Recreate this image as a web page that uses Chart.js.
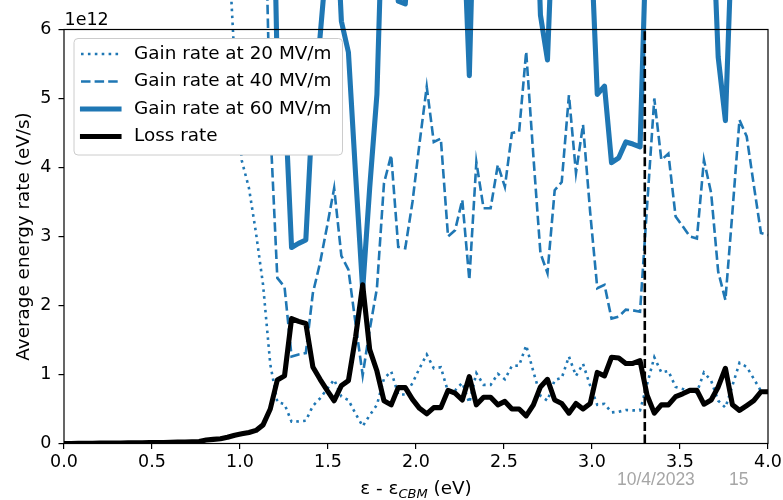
<!DOCTYPE html>
<html>
<head>
<meta charset="utf-8">
<script src="https://cdn.jsdelivr.net/npm/chart.js@4/dist/chart.umd.min.js"></script>
<style>
  html, body { margin: 0; padding: 0; background: #fff; }
  #wrap { width: 783px; height: 500px; }
</style>
</head>
<body>
<div id="wrap"><canvas id="rates" width="783" height="500"></canvas></div>
<script>
// energy above the conduction band minimum (eV)
const energy = [
  0.000, 0.040, 0.081, 0.121, 0.162, 0.202, 0.242, 0.283, 0.323, 0.364,
  0.404, 0.444, 0.485, 0.525, 0.566, 0.606, 0.646, 0.687, 0.727, 0.768,
  0.808, 0.848, 0.889, 0.929, 0.970, 1.010, 1.051, 1.091, 1.131, 1.172,
  1.212, 1.253, 1.293, 1.333, 1.374, 1.414, 1.455, 1.495, 1.535, 1.576,
  1.616, 1.657, 1.697, 1.737, 1.778, 1.818, 1.859, 1.899, 1.939, 1.980,
  2.020, 2.061, 2.101, 2.141, 2.182, 2.222, 2.263, 2.303, 2.343, 2.384,
  2.424, 2.465, 2.505, 2.545, 2.586, 2.626, 2.667, 2.707, 2.747, 2.788,
  2.828, 2.869, 2.909, 2.949, 2.990, 3.030, 3.071, 3.111, 3.152, 3.192,
  3.232, 3.273, 3.313, 3.354, 3.394, 3.434, 3.475, 3.515, 3.556, 3.596,
  3.636, 3.677, 3.717, 3.758, 3.798, 3.838, 3.879, 3.919, 3.960, 4.000
];

// rates in units of 1e12 eV/s (null = far above the plotted range)
const gain20 = [
  null, null, null, null, null, null, null, null, null, null,
  null, null, null, null, null, null, null, null, null, null,
  null, null, null, 7.5, 5.5, 4.1, 3.7, 3.05, 2.3, 1.15,
  0.60, 0.57, 0.315, 0.32, 0.33, 0.545, 0.655, 0.79, 0.925, 0.68,
  0.63, 0.43, 0.25, 0.41, 0.56, 0.94, 1.045, 0.71, 0.71, 0.875,
  1.09, 1.29, 1.09, 1.105, 0.75, 0.77, 0.88, 0.59, 1.02, 0.85,
  0.85, 1.01, 0.93, 1.125, 1.13, 1.42, 1.04, 0.69, 0.62, 0.92,
  0.95, 1.26, 0.98, 1.155, 0.835, 0.56, 0.575, 0.45, 0.46, 0.485,
  0.48, 0.48, 0.86, 1.25, 1.03, 1.05, 0.82, 0.79, 0.75, 0.74,
  1.03, 0.91, 0.62, 0.52, 0.84, 1.17, 1.11, 0.94, 0.76, 0.755
];

const gain40 = [
  null, null, null, null, null, null, null, null, null, null,
  null, null, null, null, null, null, null, null, null, null,
  null, null, null, 30.0, 22.0, 16.4, 14.8, 12.2, 9.2, 4.6,
  2.40, 2.27, 1.26, 1.29, 1.31, 2.18, 2.62, 3.15, 3.70, 2.72,
  2.52, 1.73, 0.99, 1.65, 2.25, 3.77, 4.18, 2.85, 2.83, 3.50,
  4.35, 5.17, 4.37, 4.42, 3.00, 3.09, 3.53, 2.37, 4.08, 3.41,
  3.41, 4.04, 3.72, 4.50, 4.52, 5.68, 4.16, 2.76, 2.47, 3.67,
  3.79, 5.05, 3.92, 4.62, 3.34, 2.25, 2.30, 1.81, 1.84, 1.94,
  1.93, 1.91, 3.44, 5.00, 4.11, 4.20, 3.29, 3.15, 3.00, 2.97,
  4.11, 3.63, 2.49, 2.08, 3.36, 4.69, 4.45, 3.75, 3.05, 3.02
];

const gain60 = [
  null, null, null, null, null, null, null, null, null, null,
  null, null, null, null, null, null, null, null, null, null,
  null, null, null, 67.5, 49.5, 36.9, 33.3, 27.5, 20.7, 10.35,
  5.40, 5.11, 2.84, 2.90, 2.95, 4.91, 5.90, 7.09, 8.33, 6.12,
  5.67, 3.89, 2.23, 3.71, 5.06, 8.48, 9.41, 6.41, 6.37, 7.88,
  9.79, 11.63, 9.83, 9.95, 6.75, 6.95, 7.94, 5.33, 9.18, 7.67,
  7.67, 9.09, 8.37, 10.13, 10.17, 12.78, 9.36, 6.21, 5.56, 8.26,
  8.53, 11.36, 8.82, 10.40, 7.52, 5.06, 5.18, 4.07, 4.14, 4.37,
  4.34, 4.30, 7.74, 11.25, 9.25, 9.45, 7.40, 7.09, 6.75, 6.68,
  9.25, 8.17, 5.60, 4.68, 7.56, 10.55, 10.01, 8.44, 6.86, 6.80
];

const lossRate = [
  0.000, 0.001, 0.002, 0.003, 0.004, 0.005, 0.006, 0.007, 0.008, 0.009,
  0.010, 0.011, 0.012, 0.013, 0.015, 0.017, 0.020, 0.022, 0.025, 0.030,
  0.05, 0.06, 0.07, 0.09, 0.12, 0.14, 0.16, 0.19, 0.27, 0.50,
  0.92, 0.98, 1.81, 1.77, 1.74, 1.11, 0.93, 0.77, 0.62, 0.84,
  0.91, 1.55, 2.30, 1.36, 1.05, 0.62, 0.56, 0.81, 0.81, 0.64,
  0.51, 0.43, 0.52, 0.52, 0.77, 0.73, 0.63, 0.97, 0.56, 0.67,
  0.67, 0.56, 0.61, 0.50, 0.50, 0.40, 0.56, 0.82, 0.93, 0.63,
  0.58, 0.44, 0.58, 0.50, 0.58, 1.03, 0.98, 1.25, 1.24, 1.16,
  1.16, 1.20, 0.70, 0.44, 0.56, 0.56, 0.68, 0.72, 0.77, 0.77,
  0.57, 0.63, 0.82, 1.09, 0.56, 0.48, 0.55, 0.62, 0.75, 0.75
];

const markerEnergy = 3.3;   // dashed vertical marker (eV)
const xTicks = [0, 0.5, 1, 1.5, 2, 2.5, 3, 3.5, 4];
const yTicks = [0, 1, 2, 3, 4, 5, 6];

const BLUE = '#1f77b4';
const FONT = 'DejaVu Sans';

const pts = arr => energy.map((e, i) => ({ x: e, y: arr[i] }));

// keep the plot box fixed regardless of tick label overhang
const noOverhang = s => { s.paddingLeft = 0; s.paddingRight = 0; s.paddingTop = 0; s.paddingBottom = 0; };

// axes box, legend, axis titles and footer
const decorations = {
  id: 'decorations',
  afterDatasetsDraw(chart) {
    const { ctx, chartArea: a } = chart;
    ctx.save();
    ctx.strokeStyle = '#000';
    ctx.lineWidth = 1.2;
    ctx.strokeRect(a.left, a.top, a.right - a.left, a.bottom - a.top);

    // legend
    const bx = 74, by = 38.5, bw = 268.5, bh = 116.5, r = 4;
    ctx.beginPath();
    ctx.moveTo(bx + r, by);
    ctx.arcTo(bx + bw, by, bx + bw, by + bh, r);
    ctx.arcTo(bx + bw, by + bh, bx, by + bh, r);
    ctx.arcTo(bx, by + bh, bx, by, r);
    ctx.arcTo(bx, by, bx + bw, by, r);
    ctx.closePath();
    ctx.fillStyle = '#fff';
    ctx.fill();
    ctx.strokeStyle = '#cccccc';
    ctx.lineWidth = 1;
    ctx.stroke();

    const rows = [54, 81.5, 109, 136.5];
    const items = chart.data.datasets.filter(d => d.label);
    items.forEach((d, k) => {
      const y = rows[k];
      ctx.beginPath();
      ctx.strokeStyle = d.borderColor;
      ctx.lineWidth = d.borderWidth;
      ctx.setLineDash(d.borderDash || []);
      ctx.lineCap = d.borderDash ? 'butt' : 'square';
      const x0 = d.borderDash ? 81 : 82.5, x1 = d.borderDash ? 120.5 : 119;
      ctx.moveTo(x0, y);
      ctx.lineTo(x1, y);
      ctx.stroke();
      ctx.setLineDash([]);
      ctx.fillStyle = '#000';
      ctx.font = `18.4px "${FONT}"`;
      ctx.textBaseline = 'middle';
      ctx.textAlign = 'left';
      ctx.fillText(d.label, 134, y);
    });
    ctx.restore();
  },
  afterDraw(chart) {
    const { ctx, chartArea: a } = chart;
    ctx.save();
    ctx.fillStyle = '#000';

    // offset text
    ctx.font = `17.5px "${FONT}"`;
    ctx.textAlign = 'left';
    ctx.textBaseline = 'alphabetic';
    ctx.fillText('1e12', a.left + 0.5, 25);

    // y title
    ctx.save();
    ctx.translate(28.5, (a.top + a.bottom) / 2);
    ctx.rotate(-Math.PI / 2);
    ctx.font = `18.4px "${FONT}"`;
    ctx.textAlign = 'center';
    ctx.fillText('Average energy rate (eV/s)', 0, 0);
    ctx.restore();

    // x title with italic subscript
    const big = `18.4px "${FONT}"`, small = `italic 13px "${FONT}"`;
    const p1 = 'ε - ε', sub = 'CBM', p2 = ' (eV)';
    ctx.font = big;
    const w1 = ctx.measureText(p1).width, w3 = ctx.measureText(p2).width;
    ctx.font = small;
    const w2 = ctx.measureText(sub).width;
    let x = (a.left + a.right) / 2 - (w1 + w2 + w3) / 2;
    const base = 494;
    ctx.textAlign = 'left';
    ctx.font = big;
    ctx.fillText(p1, x, base);
    x += w1;
    ctx.font = small;
    ctx.fillText(sub, x, base + 3.5);
    x += w2;
    ctx.font = big;
    ctx.fillText(p2, x, base);

    // footer
    ctx.fillStyle = '#a6a6a6';
    ctx.font = '17.5px "Liberation Sans"';
    ctx.fillText('10/4/2023', 617, 485);
    ctx.fillText('15', 729, 485);
    ctx.restore();
  }
};

new Chart(document.getElementById('rates'), {
  type: 'line',
  data: {
    datasets: [
      {
        data: [{ x: markerEnergy, y: yTicks[0] }, { x: markerEnergy, y: yTicks[yTicks.length - 1] }],
        borderColor: '#000', borderWidth: 2.6, borderDash: [9, 3.6],
        pointRadius: 0, order: 0
      },
      {
        label: 'Gain rate at 20 MV/m', data: pts(gain20),
        borderColor: BLUE, borderWidth: 2.6, borderDash: [2.6, 4.3], borderCapStyle: 'butt',
        pointRadius: 0, clip: false, order: 4
      },
      {
        label: 'Gain rate at 40 MV/m', data: pts(gain40),
        borderColor: BLUE, borderWidth: 2.6, borderDash: [9.5, 4.1], borderCapStyle: 'butt',
        pointRadius: 0, clip: false, order: 3
      },
      {
        label: 'Gain rate at 60 MV/m', data: pts(gain60),
        borderColor: BLUE, borderWidth: 5.1, borderJoinStyle: 'round', borderCapStyle: 'round',
        pointRadius: 0, clip: false, order: 2
      },
      {
        label: 'Loss rate', data: pts(lossRate),
        borderColor: '#000', borderWidth: 5.1, borderJoinStyle: 'round', borderCapStyle: 'round',
        pointRadius: 0, order: 1
      }
    ]
  },
  options: {
    responsive: false,
    animation: false,
    devicePixelRatio: 1,
    layout: { padding: { left: 0, top: 29.5, right: 15, bottom: 0 } },
    plugins: { legend: { display: false }, tooltip: { enabled: false } },
    elements: { line: { tension: 0 } },
    scales: {
      x: {
        type: 'linear', min: xTicks[0], max: xTicks[xTicks.length - 1],
        afterBuildTicks: s => { s.ticks = xTicks.map(v => ({ value: v })); },
        afterFit: s => { s.height = 56.5; noOverhang(s); },
        grid: { drawOnChartArea: false, drawTicks: true, tickLength: 5.5, color: '#000', lineWidth: 1.2 },
        border: { display: false },
        ticks: {
          color: '#000', font: { family: FONT, size: 17.5 }, padding: 3,
          maxRotation: 0, autoSkip: false,
          callback: v => Number(v).toFixed(1)
        }
      },
      y: {
        type: 'linear', min: yTicks[0], max: yTicks[yTicks.length - 1],
        afterBuildTicks: s => { s.ticks = yTicks.map(v => ({ value: v })); },
        afterFit: s => { s.width = 64; noOverhang(s); },
        grid: { drawOnChartArea: false, drawTicks: true, tickLength: 5.5, color: '#000', lineWidth: 1.2 },
        border: { display: false },
        ticks: {
          color: '#000', font: { family: FONT, size: 17.5 }, padding: 7,
          autoSkip: false, callback: v => String(v)
        }
      }
    }
  },
  plugins: [decorations]
});
</script>
</body>
</html>
